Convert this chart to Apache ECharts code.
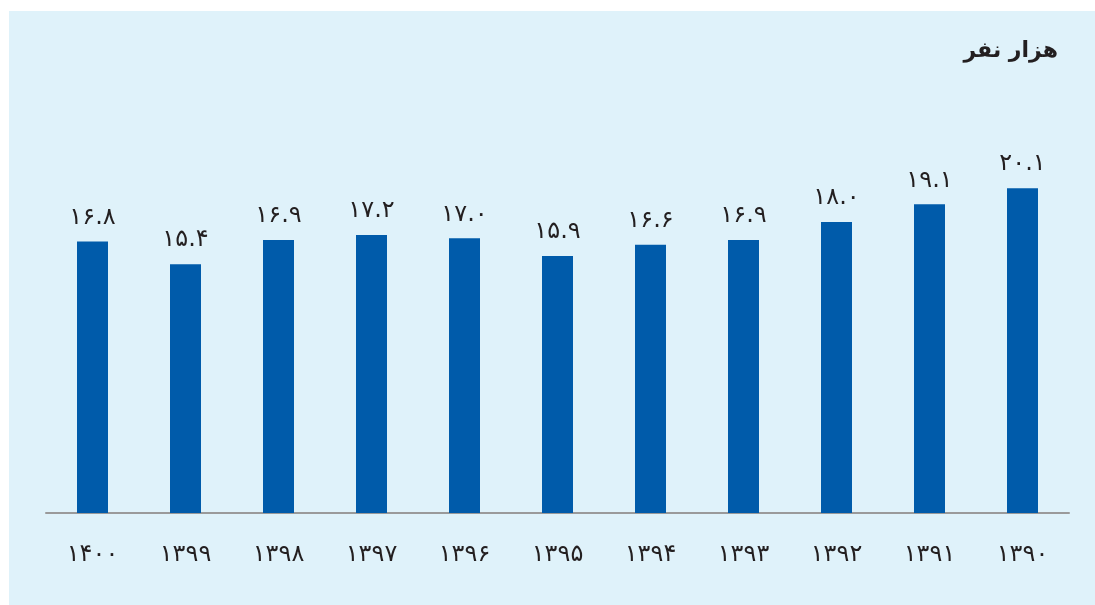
<!DOCTYPE html>
<html>
<head>
<meta charset="utf-8">
<script src="https://cdn.jsdelivr.net/npm/echarts@6/dist/echarts.min.js"></script>
<style>
  html, body { margin: 0; padding: 0; background: #ffffff; }
  #panel { position: absolute; left: 9px; top: 11px; width: 1086px; height: 594px; background: #dff2fa; }
  #chart { position: absolute; left: 0; top: 0; width: 1095px; height: 605px; }
</style>
</head>
<body>
<div id="panel"></div>
<div id="chart"></div>
<script>
// Years (Solar Hijri), left to right
const years = ['1400', '1399', '1398', '1397', '1396', '1395', '1394', '1393', '1392', '1391', '1390'];
// Thousand persons
const values = [16.8, 15.4, 16.9, 17.2, 17.0, 15.9, 16.6, 16.9, 18.0, 19.1, 20.1];
const unitTitle = 'هزار نفر';

const faDigits = ['۰', '۱', '۲', '۳', '۴', '۵', '۶', '۷', '۸', '۹'];
const toFa = s => String(s).replace(/[0-9]/g, d => faDigits[+d]);

const chart = echarts.init(document.getElementById('chart'), null, { renderer: 'canvas' });
chart.setOption({
  backgroundColor: 'transparent',
  animation: false,
  title: {
    text: unitTitle,
    right: 37,
    top: 40,
    padding: 0,
    textStyle: { fontFamily: 'DejaVu Sans', fontWeight: 'bold', fontSize: 22, color: '#231f20' }
  },
  grid: { left: 46, right: 26, top: 109, bottom: 92, containLabel: false },
  xAxis: {
    type: 'category',
    data: years,
    axisLine: { lineStyle: { color: '#9a9a9a', width: 2 } },
    axisTick: { show: false },
    axisLabel: {
      formatter: v => toFa(v),
      margin: 30,
      fontFamily: 'DejaVu Sans',
      fontSize: 24,
      color: '#231f20'
    }
  },
  yAxis: { type: 'value', min: 0, max: 25, show: false, splitLine: { show: false } },
  series: [{
    type: 'bar',
    data: values,
    barWidth: 31,
    itemStyle: { color: '#005baa' },
    label: {
      show: true,
      position: 'top',
      distance: 12,
      formatter: p => toFa(p.value.toFixed(1)),
      fontFamily: 'DejaVu Sans',
      fontSize: 24,
      color: '#231f20'
    }
  }]
});
</script>
</body>
</html>
